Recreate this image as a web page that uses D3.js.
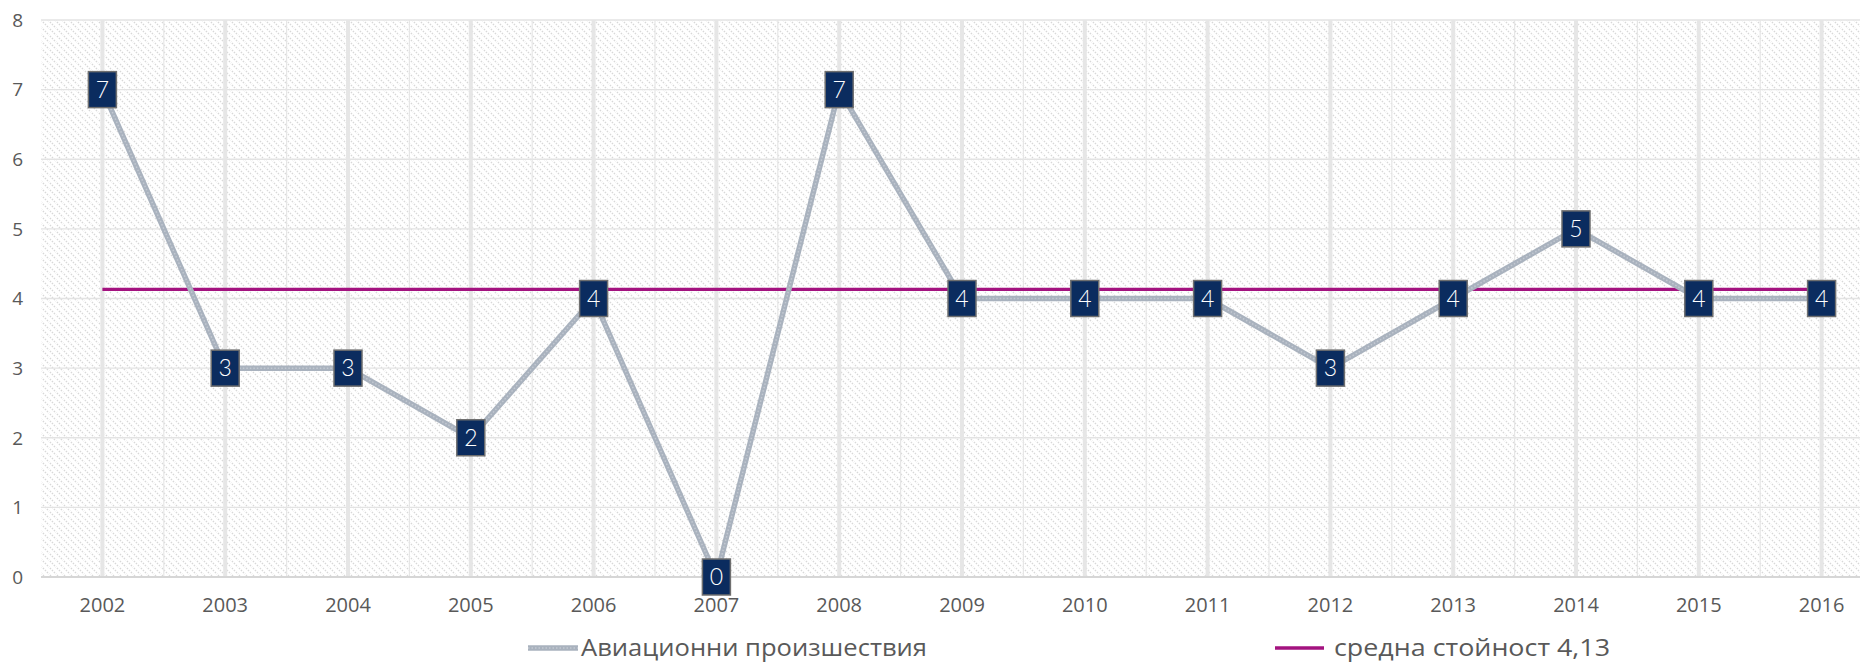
<!DOCTYPE html>
<html>
<head>
<meta charset="utf-8">
<script src="https://cdn.jsdelivr.net/npm/d3@7/dist/d3.min.js"></script>
<style>
  html, body { margin: 0; padding: 0; background: #fff; }
  svg { display: block; }
</style>
</head>
<body>
<svg id="chart" width="1860" height="664"></svg>
<script>
const years = ["2002","2003","2004","2005","2006","2007","2008","2009","2010","2011","2012","2013","2014","2015","2016"];
const incidents = [7, 3, 3, 2, 4, 0, 7, 4, 4, 4, 3, 4, 5, 4, 4];
const averageValue = 4.13;
const yTicks = [0, 1, 2, 3, 4, 5, 6, 7, 8];
const seriesName = "Авиационни произшествия";
const averageName = "средна стойност 4,13";

(function () {
const svg = d3.select("#chart");
const plotLeft = 41, plotTop = 20, plotBottom = 577, step = 122.8;

const x = d3.scaleBand().domain(years).range([plotLeft, plotLeft + step * years.length]).padding(0);
const y = d3.scaleLinear().domain([0, 8]).range([plotBottom, plotTop]);
const cx = d => x(d) + x.bandwidth() / 2;

// hatch pattern
const defs = svg.append("defs");
const P = 7;
const pat = defs.append("pattern")
  .attr("id", "hatch").attr("patternUnits", "userSpaceOnUse")
  .attr("width", P).attr("height", P);
pat.append("rect").attr("width", P).attr("height", P).attr("fill", "#ffffff");
pat.append("path").attr("d", `M-1,-1 L${P+1},${P+1} M${-P-1},-1 L1,${P+1} M${P-1},-1 L${2*P+1},${P+1}`)
  .attr("stroke", "#d8d8d8").attr("stroke-width", 1.4).attr("stroke-dasharray", "1.4,1.4");

const plotW = step * years.length;
svg.append("rect").attr("x", plotLeft).attr("y", plotTop).attr("width", plotW).attr("height", plotBottom - plotTop)
  .attr("fill", "url(#hatch)");

// horizontal gridlines
svg.append("g").selectAll("line").data(yTicks).join("line")
  .attr("x1", plotLeft).attr("x2", plotLeft + plotW)
  .attr("y1", d => y(d)).attr("y2", d => y(d))
  .attr("stroke", "#e3e3e3").attr("stroke-width", 1.3);

// thin vertical gridlines at band boundaries
svg.append("g").selectAll("line").data(years.slice(1)).join("line")
  .attr("x1", d => x(d)).attr("x2", d => x(d))
  .attr("y1", plotTop).attr("y2", plotBottom)
  .attr("stroke", "#e6e6e6").attr("stroke-width", 1.2);

// thick vertical gridlines at category centers
svg.append("g").selectAll("line").data(years).join("line")
  .attr("x1", d => cx(d)).attr("x2", d => cx(d))
  .attr("y1", plotTop).attr("y2", plotBottom)
  .attr("stroke", "#e6e6e6").attr("stroke-width", 4);

// x axis line
svg.append("line").attr("x1", plotLeft).attr("x2", plotLeft + plotW)
  .attr("y1", plotBottom).attr("y2", plotBottom)
  .attr("stroke", "#d6d6d6").attr("stroke-width", 2);

// y tick labels
svg.append("g").selectAll("text").data(yTicks).join("text")
  .attr("x", 23).attr("y", d => y(d))
  .attr("dy", "0.36em").attr("text-anchor", "end")
  .attr("font-family", "Open Sans, sans-serif").attr("font-size", 19)
  .attr("fill", "#595959").text(d => d);

// x tick labels
svg.append("g").selectAll("text").data(years).join("text")
  .attr("x", d => cx(d)).attr("y", 612)
  .attr("text-anchor", "middle")
  .attr("font-family", "Open Sans, sans-serif").attr("font-size", 20)
  .attr("fill", "#595959").text(d => d);

// average line
svg.append("line")
  .attr("x1", cx(years[0])).attr("x2", cx(years[years.length - 1]))
  .attr("y1", y(averageValue)).attr("y2", y(averageValue))
  .attr("stroke", "#a3127f").attr("stroke-width", 3.2);

// series line
const line = d3.line().x((d, i) => cx(years[i])).y(d => y(d));
svg.append("path").datum(incidents).attr("d", line)
  .attr("fill", "none").attr("stroke", "#a9b2be").attr("stroke-width", 5.5)
  .attr("stroke-linejoin", "round");
svg.append("path").datum(incidents).attr("d", line)
  .attr("fill", "none").attr("stroke", "#c3c9d2").attr("stroke-width", 1.5)
  .attr("stroke-dasharray", "1.5,2");

// data labels
const lbl = svg.append("g").selectAll("g").data(incidents).join("g")
  .attr("transform", (d, i) => `translate(${cx(years[i])},${y(d)})`);
lbl.append("rect").attr("x", -14).attr("y", -18).attr("width", 28).attr("height", 36)
  .attr("fill", "#0b2c5f").attr("stroke", "#6f6f6f").attr("stroke-width", 1.5);
lbl.append("text").attr("text-anchor", "middle").attr("dy", "0.36em")
  .attr("font-family", "Lato, sans-serif").attr("font-weight", 300).attr("font-size", 23)
  .attr("fill", "#ffffff").text(d => d);

// legend
const lg = svg.append("g");
const ly = 647;
lg.append("line").attr("x1", 528).attr("x2", 578).attr("y1", ly + 1).attr("y2", ly + 1)
  .attr("stroke", "#a9b2be").attr("stroke-width", 5.5);
lg.append("line").attr("x1", 528).attr("x2", 578).attr("y1", ly + 1).attr("y2", ly + 1)
  .attr("stroke", "#c3c9d2").attr("stroke-width", 1.5).attr("stroke-dasharray", "1.5,2");
lg.append("text").attr("x", 581).attr("y", ly).attr("dy", "0.36em")
  .attr("font-family", "Open Sans, sans-serif").attr("font-size", 24)
  .attr("textLength", 346).attr("lengthAdjust", "spacingAndGlyphs")
  .attr("fill", "#595959").text(seriesName);
lg.append("line").attr("x1", 1275).attr("x2", 1324).attr("y1", ly + 1).attr("y2", ly + 1)
  .attr("stroke", "#a3127f").attr("stroke-width", 3.5);
lg.append("text").attr("x", 1334).attr("y", ly).attr("dy", "0.36em")
  .attr("font-family", "Open Sans, sans-serif").attr("font-size", 24)
  .attr("textLength", 276).attr("lengthAdjust", "spacingAndGlyphs")
  .attr("fill", "#595959").text(averageName);
})();
</script>
</body>
</html>
